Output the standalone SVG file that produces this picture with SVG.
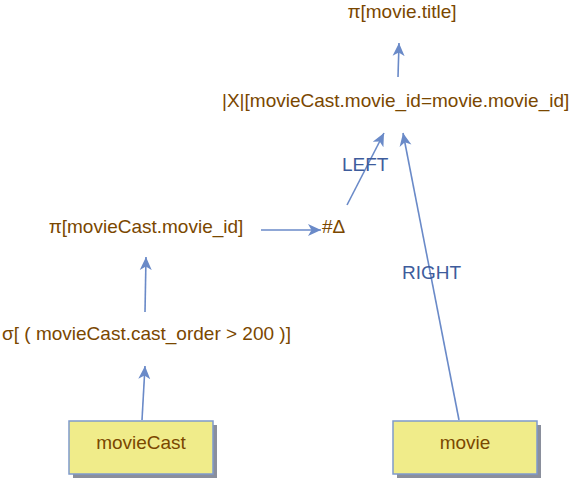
<svg xmlns="http://www.w3.org/2000/svg" width="576" height="482" viewBox="0 0 576 482">
<style>
  .t { font-family: "Liberation Sans", Arial, sans-serif; font-size: 19px; fill: #7a4700; }
  .lbl { font-family: "Liberation Sans", Arial, sans-serif; font-size: 19px; fill: #3e5c9c; }
  .edge { stroke: #6a8ac8; stroke-width: 1.6; fill: none; marker-end: url(#ah); }
  .box { fill: #f0ec8a; stroke: #7f9acc; stroke-width: 1.5; }
  .shadow { fill: #8a8f9c; }
</style>
<defs>
  <marker id="ah" viewBox="-13 -6.5 14 13" markerWidth="14" markerHeight="13" refX="0" refY="0" orient="auto" markerUnits="userSpaceOnUse">
    <path d="M0,0 L-13,-6 L-9.5,0 L-13,6 Z" fill="#6a8ac8"/>
  </marker>
</defs>
<rect width="576" height="482" fill="#ffffff"/>
<g id="connectors">
  <line class="edge" x1="142" y1="420" x2="145" y2="366"/>
  <line class="edge" x1="145" y1="312" x2="146" y2="257"/>
  <line class="edge" x1="261" y1="230" x2="321" y2="230"/>
  <line class="edge" x1="347" y1="205" x2="384" y2="133"/>
  <line class="edge" x1="459" y1="420" x2="403" y2="133"/>
  <line class="edge" x1="398" y1="77" x2="399" y2="43"/>
  <text class="lbl" x="342" y="171">LEFT</text>
  <text class="lbl" x="402" y="279">RIGHT</text>
</g>
<g id="project_title">
  <text class="t" x="402" y="18" text-anchor="middle">π[movie.title]</text>
</g>
<g id="join">
  <text class="t" x="222" y="107">|X|[movieCast.movie_id=movie.movie_id]</text>
</g>
<g id="project_movie_id">
  <text class="t" x="146" y="233" text-anchor="middle">π[movieCast.movie_id]</text>
</g>
<g id="distinct">
  <text class="t" x="322" y="233">#Δ</text>
</g>
<g id="select">
  <text class="t" x="146.5" y="340" text-anchor="middle">σ[ ( movieCast.cast_order &gt; 200 )]</text>
</g>
<g id="movieCast">
  <rect class="shadow" x="73" y="425" width="144" height="53"/>
  <rect class="box" x="69" y="421" width="144" height="53"/>
  <text class="t" x="141" y="449" text-anchor="middle">movieCast</text>
</g>
<g id="movie">
  <rect class="shadow" x="397" y="425" width="144" height="53"/>
  <rect class="box" x="393" y="421" width="144" height="53"/>
  <text class="t" x="465" y="449" text-anchor="middle">movie</text>
</g>
</svg>
